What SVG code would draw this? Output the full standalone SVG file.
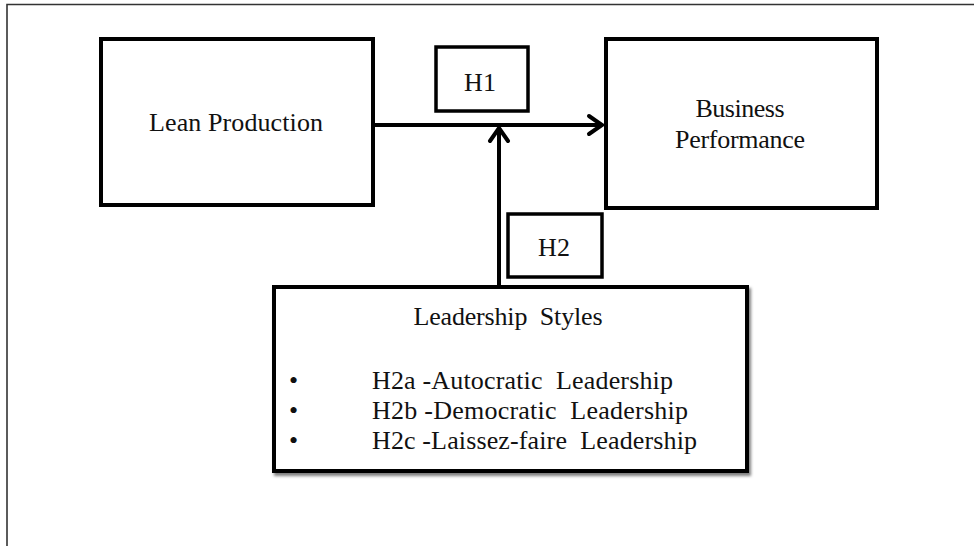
<svg xmlns="http://www.w3.org/2000/svg" width="974" height="546" viewBox="0 0 974 546">
<style>
.box{fill:#fff;stroke:#000;stroke-width:4}
.sbox{fill:#fff;stroke:#000;stroke-width:3.5}
.t{font-family:"Liberation Serif","Times New Roman",serif;font-size:26px;fill:#111}
.c{text-anchor:middle}
.conn{fill:none;stroke:#000;stroke-width:4}
.head{fill:none;stroke:#000;stroke-width:4;stroke-linecap:round;stroke-linejoin:miter}
</style>
<defs>
<filter id="sh" x="-5%" y="-5%" width="115%" height="115%">
<feDropShadow dx="2" dy="3" stdDeviation="1.5" flood-color="#000" flood-opacity="0.5"/>
</filter>
</defs>
<rect width="974" height="546" fill="#fff"/>
<path d="M7 546 V4.5 H974" fill="none" stroke="#333" stroke-width="1.6"/>

<g id="connectors">
<path class="conn" d="M373 125 H601"/>
<path class="head" d="M589 116 L602 125 L589 134"/>
<path class="conn" d="M499 287 V129"/>
<path class="head" d="M490 141 L499 128 L508 141"/>
</g>

<g id="lean">
<rect class="box" x="101" y="39" width="272" height="166"/>
<text class="t c" x="236" y="131" textLength="174">Lean Production</text>
</g>

<g id="h1">
<rect class="sbox" x="436" y="47" width="92" height="64"/>
<text class="t c" x="480" y="91">H1</text>
</g>

<g id="business">
<rect class="box" x="606" y="39" width="271" height="169"/>
<text class="t c" x="740" y="117" textLength="89">Business</text>
<text class="t c" x="740" y="148" textLength="130">Performance</text>
</g>

<g id="h2">
<rect class="sbox" x="508" y="214" width="94" height="63"/>
<text class="t c" x="554" y="256">H2</text>
</g>

<g id="leadership">
<rect class="box" x="274" y="287" width="473" height="184" filter="url(#sh)"/>
<text class="t c" x="508" y="325" textLength="189" xml:space="preserve">Leadership  Styles</text>
<text class="t" x="289" y="389">•</text>
<text class="t" x="289" y="419">•</text>
<text class="t" x="289" y="449">•</text>
<text class="t" x="372" y="389" textLength="301" xml:space="preserve">H2a -Autocratic  Leadership</text>
<text class="t" x="372" y="419" textLength="316" xml:space="preserve">H2b -Democratic  Leadership</text>
<text class="t" x="372" y="449" textLength="325" xml:space="preserve">H2c -Laissez-faire  Leadership</text>
</g>
</svg>
